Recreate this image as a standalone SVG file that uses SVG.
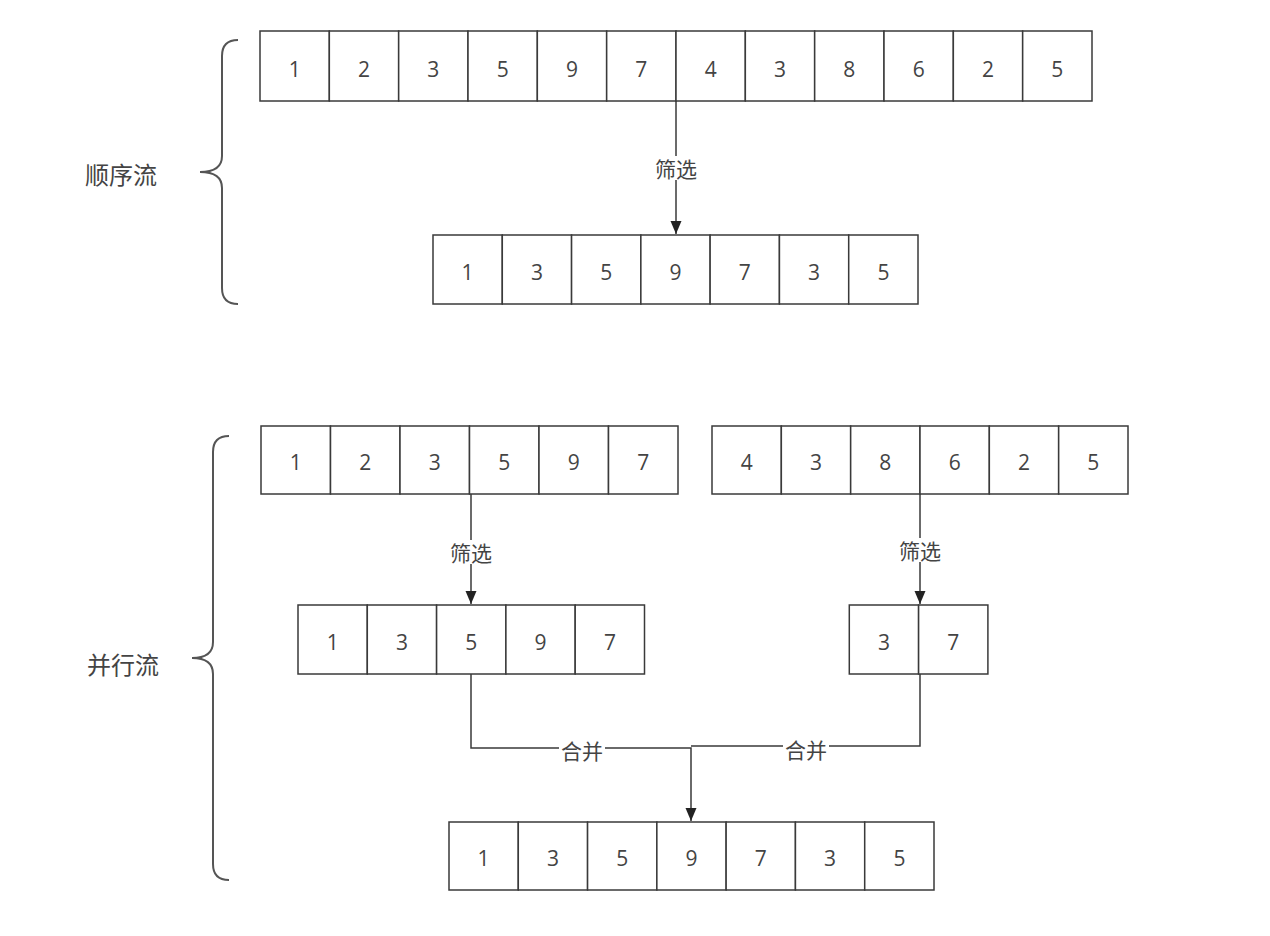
<svg xmlns="http://www.w3.org/2000/svg" width="1270" height="936" viewBox="0 0 1270 936">
<style>
.c{fill:#fff;stroke:#3a3a3a;stroke-width:1.5}
.n{font-family:"Open Sans","Noto Sans",sans-serif;font-size:21px;fill:#444;text-anchor:middle}
.lb{font-family:"Noto Sans CJK SC","Noto Sans",sans-serif;font-size:21px;fill:#444;text-anchor:middle;dominant-baseline:central}
.big{font-family:"Noto Sans CJK SC","Noto Sans",sans-serif;font-size:24px;fill:#444;text-anchor:middle;dominant-baseline:central}
.w{fill:#fff}
.e{fill:none;stroke:#3a3a3a;stroke-width:1.5}
.br{fill:none;stroke:#555;stroke-width:2}
</style>
<defs>
<marker id="ah" markerWidth="14" markerHeight="12" refX="13" refY="5.5" orient="auto" markerUnits="userSpaceOnUse">
<path d="M0,0 L13,5.5 L0,11 Z" fill="#222"/>
</marker>
</defs>
<rect width="1270" height="936" fill="#fff"/>

<g id="brace-seq"><path class="br" d="M238,40 Q222,40 222,56 L222,156 Q222,172 200,172 Q222,172 222,188 L222,288 Q222,304 238,304"/></g>
<g id="label-seq"><text class="big" x="121" y="173">顺序流</text></g>
<g id="brace-par"><path class="br" d="M229,436 Q213,436 213,452 L213,642 Q213,658 192,658 Q213,658 213,674 L213,864 Q213,880 229,880"/></g>
<g id="label-par"><text class="big" x="123" y="663">并行流</text></g>

<g id="seq-source">
<rect class="c" x="260" y="31" width="69.33" height="70"/><text class="n" x="294.7" y="77">1</text>
<rect class="c" x="329.33" y="31" width="69.33" height="70"/><text class="n" x="364" y="77">2</text>
<rect class="c" x="398.67" y="31" width="69.33" height="70"/><text class="n" x="433.3" y="77">3</text>
<rect class="c" x="468" y="31" width="69.33" height="70"/><text class="n" x="502.7" y="77">5</text>
<rect class="c" x="537.33" y="31" width="69.33" height="70"/><text class="n" x="572" y="77">9</text>
<rect class="c" x="606.67" y="31" width="69.33" height="70"/><text class="n" x="641.3" y="77">7</text>
<rect class="c" x="676" y="31" width="69.33" height="70"/><text class="n" x="710.7" y="77">4</text>
<rect class="c" x="745.33" y="31" width="69.33" height="70"/><text class="n" x="780" y="77">3</text>
<rect class="c" x="814.67" y="31" width="69.33" height="70"/><text class="n" x="849.3" y="77">8</text>
<rect class="c" x="884" y="31" width="69.33" height="70"/><text class="n" x="918.7" y="77">6</text>
<rect class="c" x="953.33" y="31" width="69.33" height="70"/><text class="n" x="988" y="77">2</text>
<rect class="c" x="1022.67" y="31" width="69.33" height="70"/><text class="n" x="1057.3" y="77">5</text>
</g>

<g id="seq-result">
<rect class="c" x="433" y="235" width="69.29" height="69"/><text class="n" x="467.6" y="280">1</text>
<rect class="c" x="502.29" y="235" width="69.29" height="69"/><text class="n" x="536.9" y="280">3</text>
<rect class="c" x="571.57" y="235" width="69.29" height="69"/><text class="n" x="606.2" y="280">5</text>
<rect class="c" x="640.86" y="235" width="69.29" height="69"/><text class="n" x="675.5" y="280">9</text>
<rect class="c" x="710.14" y="235" width="69.29" height="69"/><text class="n" x="744.8" y="280">7</text>
<rect class="c" x="779.43" y="235" width="69.29" height="69"/><text class="n" x="814.1" y="280">3</text>
<rect class="c" x="848.71" y="235" width="69.29" height="69"/><text class="n" x="883.4" y="280">5</text>
</g>

<g id="par-left-source">
<rect class="c" x="261" y="426" width="69.5" height="68"/><text class="n" x="295.8" y="470">1</text>
<rect class="c" x="330.5" y="426" width="69.5" height="68"/><text class="n" x="365.3" y="470">2</text>
<rect class="c" x="400" y="426" width="69.5" height="68"/><text class="n" x="434.8" y="470">3</text>
<rect class="c" x="469.5" y="426" width="69.5" height="68"/><text class="n" x="504.3" y="470">5</text>
<rect class="c" x="539" y="426" width="69.5" height="68"/><text class="n" x="573.8" y="470">9</text>
<rect class="c" x="608.5" y="426" width="69.5" height="68"/><text class="n" x="643.3" y="470">7</text>
</g>

<g id="par-right-source">
<rect class="c" x="712" y="426" width="69.33" height="68"/><text class="n" x="746.7" y="470">4</text>
<rect class="c" x="781.33" y="426" width="69.33" height="68"/><text class="n" x="816" y="470">3</text>
<rect class="c" x="850.67" y="426" width="69.33" height="68"/><text class="n" x="885.3" y="470">8</text>
<rect class="c" x="920" y="426" width="69.33" height="68"/><text class="n" x="954.7" y="470">6</text>
<rect class="c" x="989.33" y="426" width="69.33" height="68"/><text class="n" x="1024" y="470">2</text>
<rect class="c" x="1058.67" y="426" width="69.33" height="68"/><text class="n" x="1093.3" y="470">5</text>
</g>

<g id="par-left-result">
<rect class="c" x="298" y="605" width="69.3" height="69"/><text class="n" x="332.7" y="650">1</text>
<rect class="c" x="367.3" y="605" width="69.3" height="69"/><text class="n" x="402" y="650">3</text>
<rect class="c" x="436.6" y="605" width="69.3" height="69"/><text class="n" x="471.3" y="650">5</text>
<rect class="c" x="505.9" y="605" width="69.3" height="69"/><text class="n" x="540.6" y="650">9</text>
<rect class="c" x="575.2" y="605" width="69.3" height="69"/><text class="n" x="609.9" y="650">7</text>
</g>

<g id="par-right-result">
<rect class="c" x="849.3" y="605" width="69.3" height="69"/><text class="n" x="884" y="650">3</text>
<rect class="c" x="918.6" y="605" width="69.3" height="69"/><text class="n" x="953.3" y="650">7</text>
</g>

<g id="par-merged">
<rect class="c" x="449" y="822" width="69.29" height="68"/><text class="n" x="483.6" y="866">1</text>
<rect class="c" x="518.29" y="822" width="69.29" height="68"/><text class="n" x="552.9" y="866">3</text>
<rect class="c" x="587.57" y="822" width="69.29" height="68"/><text class="n" x="622.2" y="866">5</text>
<rect class="c" x="656.86" y="822" width="69.29" height="68"/><text class="n" x="691.5" y="866">9</text>
<rect class="c" x="726.14" y="822" width="69.29" height="68"/><text class="n" x="760.8" y="866">7</text>
<rect class="c" x="795.43" y="822" width="69.29" height="68"/><text class="n" x="830.1" y="866">3</text>
<rect class="c" x="864.71" y="822" width="69.29" height="68"/><text class="n" x="899.4" y="866">5</text>
</g>

<g id="connectors">
<path class="e" d="M676,101 V234" marker-end="url(#ah)"/>
<rect class="w" x="653" y="156" width="46" height="24"/>
<text class="lb" x="676" y="168">筛选</text>

<path class="e" d="M471,494 V604" marker-end="url(#ah)"/>
<rect class="w" x="448" y="540" width="46" height="24"/>
<text class="lb" x="471" y="552">筛选</text>

<path class="e" d="M920,494 V604" marker-end="url(#ah)"/>
<rect class="w" x="897" y="538" width="46" height="24"/>
<text class="lb" x="920" y="550">筛选</text>

<path class="e" d="M471,674 V748 H691 V821" marker-end="url(#ah)"/>
<path class="e" d="M920,674 V746 H691"/>
<rect class="w" x="559" y="738" width="46" height="24"/>
<text class="lb" x="582" y="750">合并</text>
<rect class="w" x="783" y="736" width="46" height="24"/>
<text class="lb" x="806" y="749">合并</text>
</g>
</svg>
